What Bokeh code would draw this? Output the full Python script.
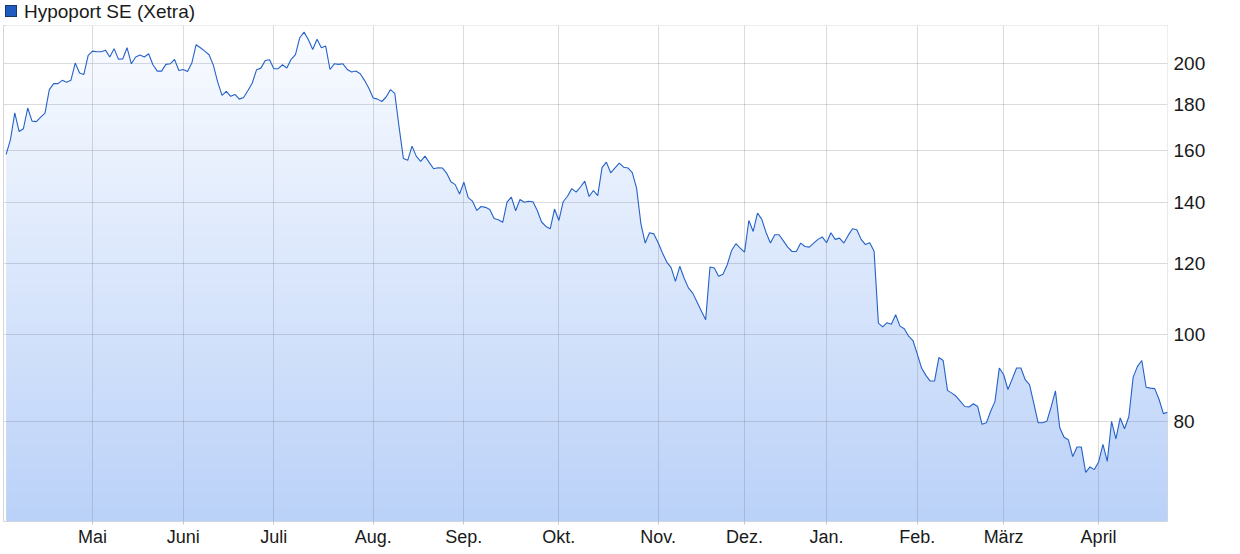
import numpy as np
import pandas as pd
from bokeh.plotting import figure
from bokeh.layouts import column
from bokeh.models import (Range1d, FixedTicker, Div,
                          ColumnDataSource, NumeralTickFormatter)
from bokeh.embed import file_html
from bokeh.resources import INLINE

series_name = "Hypoport SE (Xetra)"
series_color = "#1f5bc0"

# daily closing prices (EUR), one per Xetra trading day
prices = [
    158.5, 164.6, 176.3, 168.1, 169.3, 178.5, 172.6, 172.4, 174.4, 176.2,
    187.1, 190.0, 190.0, 191.6, 190.7, 191.6, 200.3, 195.2, 194.5, 204.3,
    206.5, 206.2, 206.2, 207.0, 203.4, 207.8, 202.3, 202.4, 208.3, 199.9,
    203.4, 204.4, 203.4, 205.1, 199.4, 196.2, 196.2, 199.6, 199.9, 202.2,
    196.5, 197.0, 196.0, 200.3, 209.9, 208.3, 206.5, 204.6, 199.1, 190.7,
    184.4, 186.3, 183.9, 184.8, 182.6, 183.4, 186.7, 190.3, 196.9, 197.7,
    201.6, 202.0, 197.4, 197.4, 199.4, 197.7, 202.2, 204.6, 213.7, 216.8,
    212.6, 207.4, 212.9, 208.3, 209.2, 197.0, 199.9, 199.6, 199.9, 197.0,
    195.7, 196.2, 194.9, 191.6, 187.8, 183.1, 182.6, 181.5, 183.6, 187.1,
    185.3, 170.0, 156.8, 156.1, 161.9, 157.7, 155.7, 157.8, 155.2, 152.8,
    153.2, 153.1, 151.1, 147.8, 146.7, 143.2, 147.6, 141.9, 140.6, 137.3,
    138.7, 138.4, 137.6, 134.5, 134.1, 133.2, 140.3, 142.1, 137.2, 141.2,
    140.2, 140.6, 140.4, 137.3, 133.3, 131.8, 131.0, 137.8, 133.8, 140.4,
    142.4, 145.2, 143.9, 145.8, 148.0, 142.3, 144.5, 142.6, 153.2, 155.4,
    151.2, 153.1, 155.0, 153.4, 153.1, 151.3, 145.4, 132.7, 126.3, 129.7,
    129.3, 126.4, 123.1, 120.3, 118.6, 114.5, 119.0, 115.5, 112.6, 111.1,
    108.6, 106.1, 103.8, 118.8, 118.5, 116.0, 116.6, 119.5, 123.9, 126.1,
    124.7, 123.4, 133.8, 130.1, 136.4, 134.2, 129.7, 126.3, 129.0, 129.0,
    127.0, 125.0, 123.6, 123.6, 126.3, 125.2, 125.0, 126.3, 127.5, 128.3,
    126.4, 129.7, 127.5, 127.9, 126.3, 128.8, 131.0, 130.7, 127.5, 125.8,
    126.4, 123.7, 102.9, 101.9, 103.0, 102.6, 105.1, 102.1, 101.4, 99.5,
    98.4, 95.1, 91.7, 90.0, 88.7, 88.7, 94.2, 93.5, 86.6, 86.0,
    85.3, 84.2, 83.1, 83.0, 83.7, 83.1, 79.4, 79.7, 82.1, 84.2,
    91.7, 90.2, 86.8, 89.2, 91.7, 91.7, 89.0, 87.9, 83.7, 79.7,
    79.7, 80.0, 83.0, 86.5, 78.7, 76.8, 76.3, 73.1, 74.9, 74.9,
    70.2, 71.2, 70.7, 72.1, 75.4, 72.2, 80.0, 76.5, 80.7, 78.5,
    81.0, 89.6, 92.1, 93.5, 87.3, 87.1, 87.0, 84.6, 81.6, 81.9,
]

first_day = "2025-04-01"
last_day = "2026-04-27"
xetra_holidays = ["2025-04-18", "2025-04-21", "2025-05-01", "2025-12-24",
                  "2025-12-25", "2025-12-26", "2025-12-31", "2026-01-01",
                  "2026-04-03", "2026-04-06"]
month_names = ["Jan.", "Feb.", "März", "April", "Mai", "Juni", "Juli",
               "Aug.", "Sep.", "Okt.", "Nov.", "Dez."]
y_ticks = [80, 100, 120, 140, 160, 180, 200]
y_min, y_max = 61.9, 220.5

# ---- trading-day axis -------------------------------------------------
dates = pd.bdate_range(first_day, last_day)
dates = dates[~dates.isin(pd.to_datetime(xetra_holidays))]
n = min(len(dates), len(prices))
dates = dates[:n]
vals = np.array(prices[:n], dtype=float)
idx = np.arange(n)
month_starts = [i for i in range(1, n) if dates[i].month != dates[i - 1].month]
month_labels = {int(i): month_names[dates[i].month - 1] for i in month_starts}

src = ColumnDataSource(dict(x=idx, y=vals, top=np.full(n, y_max)))

FONT = "Liberation Sans"
FW, FH = 1164, 496
p = figure(frame_width=FW, frame_height=FH,
           x_range=Range1d(-0.61, n - 1.05), y_range=Range1d(y_min, y_max),
           y_axis_type="log", y_axis_location="right",
           output_backend="svg", toolbar_location=None,
           min_border_left=3, min_border_top=0, min_border_bottom=30,
           min_border_right=70,
           background_fill_color="white", border_fill_color="white",
           outline_line_color="#d6d6d6")

# ---- vertical gradient under the line (bands + white mask above line) --
nb = 124
edges = np.exp(np.linspace(np.log(y_min), np.log(y_max), nb + 1))
c_bot = np.array([186, 209, 248])
c_top = np.array([250, 252, 255])
t = (np.arange(nb) + 0.5) / nb
cols = ["#%02x%02x%02x" % tuple(np.round(c_bot + (c_top - c_bot) * ti).astype(int)) for ti in t]
band = ColumnDataSource(dict(left=np.zeros(nb), right=np.full(nb, n - 1.0),
                             bottom=edges[:-1], top=edges[1:] * 1.003, c=cols))
p.quad(left="left", right="right", bottom="bottom", top="top", fill_color="c",
       line_color=None, source=band, level="image")
p.varea(x="x", y1="y", y2="top", source=src, fill_color="white", level="image")

# ---- price line ---------------------------------------------------------
p.line("x", "y", source=src, line_color="#2462c8", line_width=1.1)

# ---- grids --------------------------------------------------------------
p.xgrid.ticker = FixedTicker(ticks=month_starts)
p.ygrid.ticker = FixedTicker(ticks=y_ticks)
for g in (p.xgrid, p.ygrid):
    g.grid_line_color = "#707078"
    g.grid_line_alpha = 0.25
    g.grid_line_width = 1

# ---- axes ---------------------------------------------------------------
xa = p.xaxis[0]
xa.ticker = FixedTicker(ticks=month_starts)
xa.major_label_overrides = month_labels
xa.axis_line_color = None
xa.major_tick_line_color = "#c8c8c8"
xa.major_tick_out = 3
xa.major_tick_in = 0
xa.minor_tick_line_color = None
xa.major_label_standoff = 2
xa.major_label_text_font = FONT
xa.major_label_text_font_size = "18px"
xa.major_label_text_color = "#1a1a1a"

ya = p.yaxis[0]
ya.ticker = FixedTicker(ticks=y_ticks)
ya.formatter = NumeralTickFormatter(format="0")
ya.axis_line_color = None
ya.major_tick_line_color = None
ya.minor_tick_line_color = None
ya.major_tick_out = 0
ya.major_label_standoff = 6
ya.major_label_text_font = FONT
ya.major_label_text_font_size = "19px"
ya.major_label_text_color = "#1a1a1a"

# ---- legend row above the chart (swatch + series name) ------------------
legend_html = (
    '<div style="position:relative;width:1237px;height:25px;margin:0;padding:0;">'
    '<span style="position:absolute;left:5px;top:5px;width:12px;height:12px;'
    'box-sizing:border-box;background:%s;border:1px solid #17386e;"></span>'
    '<span style="position:absolute;left:24px;top:1px;white-space:nowrap;'
    'font-family:\'Liberation Sans\';font-size:19px;line-height:22px;'
    'color:#1a1a1a;">%s</span></div>' % (series_color, series_name)
)
legend_div = Div(text=legend_html, width=1237, height=25, margin=(0, 0, 0, 0))

layout = column(legend_div, p, spacing=0)

open("out.html", "w").write(file_html(layout, INLINE))
